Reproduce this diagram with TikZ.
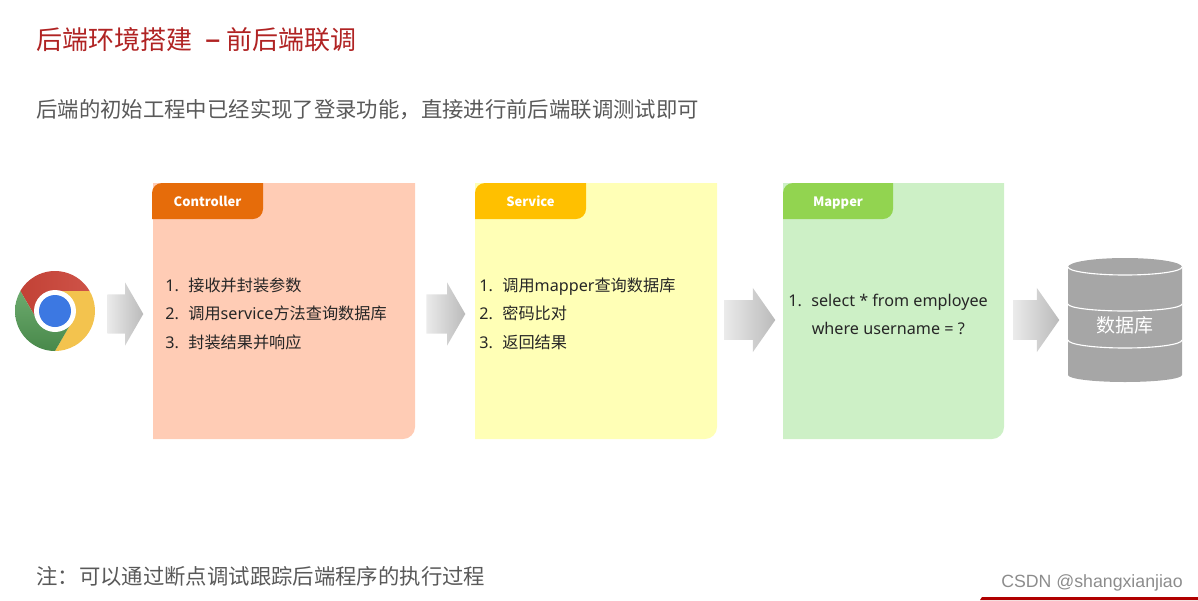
\documentclass[tikz,border=0pt]{standalone}
\usepackage{fontspec}
\setmainfont{Noto Sans CJK SC}
\newfontfamily\wmfont{Liberation Sans}
\newfontfamily\latfont{Noto Sans}
\usetikzlibrary{shapes.arrows}
\definecolor{titlered}{RGB}{176,35,35}
\definecolor{bodygray}{RGB}{89,89,89}
\definecolor{listink}{RGB}{38,38,38}
\definecolor{ctlback}{RGB}{255,204,181}
\definecolor{ctltab}{RGB}{230,108,10}
\definecolor{svcback}{RGB}{255,255,182}
\definecolor{svctab}{RGB}{255,192,0}
\definecolor{mapback}{RGB}{205,240,198}
\definecolor{maptab}{RGB}{146,212,80}
\definecolor{dbgray}{RGB}{166,166,166}
\definecolor{chromered}{RGB}{202,68,56}
\definecolor{chromeyellow}{RGB}{243,195,78}
\definecolor{chromegreen}{RGB}{82,155,84}
\definecolor{chromeblue}{RGB}{60,120,226}
\definecolor{barred}{RGB}{176,0,0}
\tikzset{
  titletext/.style={anchor=base west,inner sep=0pt,text=titlered,font=\fontsize{18.5}{22}\selectfont},
  bodytext/.style={anchor=base west,inner sep=0pt,text=bodygray,font=\fontsize{15.2}{18}\selectfont},
  listtext/.style={anchor=base west,inner sep=0pt,text=listink,font=\fontsize{11.5}{14}\selectfont},
  tabtext/.style={anchor=base,inner sep=0pt,text=white,font=\fontsize{9.2}{12}\selectfont\bfseries},
  blockarrow/.style={single arrow,anchor=tail,inner xsep=0pt,inner ysep=0.4cm,minimum width=1.6cm,
    single arrow tip angle=110,left color=black!8,right color=black!27,draw=none}
}
\newcommand{\itemno}[1]{\makebox[16.4pt][l]{\latfont #1}}

\begin{document}
\begin{tikzpicture}[x=0.025cm,y=0.025cm]
  \useasboundingbox (0,0) rectangle (1198,-600);
  \node[titletext] (title) at (36,-49) {后端环境搭建\hspace{9pt}{\latfont\fontsize{22}{22}\selectfont –}\hspace{4pt}前后端联调};
  \node[bodytext] (intro) at (36,-117) {后端的初始工程中已经实现了登录功能\char"FF0C 直接进行前后端联调测试即可};
  \node[bodytext] (note) at (36,-584) {注\char"FF1A 可以通过断点调试跟踪后端程序的执行过程};
  % browser icon
  \path[left color=chromered!96!black,right color=chromered!92!white] (55,-311) -- (89.6,-291) arc[start angle=30,end angle=150,radius=40] -- (37.7,-321) -- cycle;
  \fill[chromeyellow] (55,-311) -- (55,-291) -- (89.6,-291) arc[start angle=30,end angle=-90,radius=40] -- (72.3,-321) -- cycle;
  \path[top color=chromegreen!85!white,bottom color=chromegreen!88!black] (55,-311) -- (72.3,-321) -- (55,-351) arc[start angle=270,end angle=150,radius=40] -- (37.7,-321) -- cycle;
  \fill[white] (55,-311) circle (21);
  \fill[chromeblue] (55,-311) circle (16);
  % cards
  \fill[ctlback] (153,-183) -- (415,-183) -- (415,-427) arc[start angle=0,end angle=-90,radius=12] -- (153,-439) -- cycle;
  \fill[ctltab] (152,-219) -- (152,-193) arc[start angle=180,end angle=90,radius=10] -- (263,-183) -- (263,-209) arc[start angle=0,end angle=-90,radius=10] -- cycle;
  \node[tabtext] (ctlname) at (207.5,-206) {Controller};
  \node[listtext] (ctl1) at (165,-291.5) {\itemno{1.}接收并封装参数};
  \node[listtext] (ctl2) at (165,-319.5) {\itemno{2.}调用{\latfont service}方法查询数据库};
  \node[listtext] (ctl3) at (165,-348.5) {\itemno{3.}封装结果并响应};
  \fill[svcback] (475,-183) -- (717,-183) -- (717,-427) arc[start angle=0,end angle=-90,radius=12] -- (475,-439) -- cycle;
  \fill[svctab] (475,-219) -- (475,-193) arc[start angle=180,end angle=90,radius=10] -- (586,-183) -- (586,-209) arc[start angle=0,end angle=-90,radius=10] -- cycle;
  \node[tabtext] (svcname) at (530.5,-206) {Service};
  \node[listtext] (svc1) at (479,-291.5) {\itemno{1.}调用{\latfont mapper}查询数据库};
  \node[listtext] (svc2) at (479,-319.5) {\itemno{2.}密码比对};
  \node[listtext] (svc3) at (479,-348.5) {\itemno{3.}返回结果};
  \fill[mapback] (783,-183) -- (1004,-183) -- (1004,-427) arc[start angle=0,end angle=-90,radius=12] -- (783,-439) -- cycle;
  \fill[maptab] (783,-219) -- (783,-193) arc[start angle=180,end angle=90,radius=10] -- (893,-183) -- (893,-209) arc[start angle=0,end angle=-90,radius=10] -- cycle;
  \node[tabtext] (mapname) at (838,-206) {Mapper};
  \node[listtext] (map1) at (788,-306.5) {\itemno{1.}{\latfont select * from employee}};
  \node[listtext] (map2) at (811.5,-334.5) {\latfont where username = ?};
  % flow arrows
  \node[blockarrow,minimum width=1.575cm,single arrow tip angle=120,minimum height=0.9cm] (arrowa) at (107,-314) {};
  \node[blockarrow,minimum width=1.575cm,single arrow tip angle=120,minimum height=0.975cm] (arrowb) at (426,-314) {};
  \node[blockarrow,minimum height=1.275cm] (arrowc) at (724,-320) {};
  \node[blockarrow,minimum height=1.15cm] (arrowd) at (1013,-320) {};
  % database
  \fill[dbgray] (1068,-267) arc[x radius=57,y radius=9,start angle=180,end angle=0] -- (1182,-375)
    arc[x radius=57,y radius=7,start angle=0,end angle=-180] -- cycle;
  \draw[white,thick] (1068,-267) arc[x radius=57,y radius=8,start angle=180,end angle=360];
  \draw[white,thick] (1068,-304) arc[x radius=57,y radius=7,start angle=180,end angle=360];
  \draw[white,thick] (1068,-340) arc[x radius=57,y radius=8,start angle=180,end angle=360];
  \node[inner sep=0pt,text=white,font=\fontsize{13.5}{16}\selectfont] (dbname) at (1125,-325) {数据库};
  % watermark and bar
  \fill[barred] (980,-600) -- (982,-597) -- (1198,-597) -- (1198,-600) -- cycle;
  \node[anchor=base east,inner sep=0pt,text=black!45,font=\wmfont\fontsize{12.6}{14}\selectfont] (mark) at (1183,-587) {CSDN @shangxianjiao};
\end{tikzpicture}
\end{document}
